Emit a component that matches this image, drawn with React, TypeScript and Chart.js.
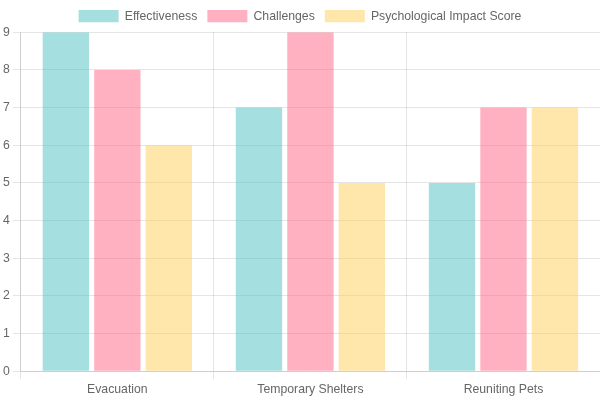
import React, { useEffect, useRef } from "react";
import { Chart, registerables } from "chart.js";

Chart.register(...registerables);

const categories = ["Evacuation", "Temporary Shelters", "Reuniting Pets"];
const effectiveness = [9, 7, 5];
const challenges = [8, 9, 7];
const psychologicalImpact = [6, 5, 7];

export default function App() {
  const canvasRef = useRef<HTMLCanvasElement | null>(null);

  useEffect(() => {
    document.body.style.margin = "0";
    const ctx = canvasRef.current;
    if (!ctx) return;
    Chart.defaults.font.size = 12.25;
    const chart = new Chart(ctx, {
      type: "bar",
      data: {
        labels: categories,
        datasets: [
          {
            label: "Effectiveness",
            data: effectiveness,
            backgroundColor: "rgba(75, 192, 192, 0.5)",
          },
          {
            label: "Challenges",
            data: challenges,
            backgroundColor: "rgba(255, 99, 132, 0.5)",
          },
          {
            label: "Psychological Impact Score",
            data: psychologicalImpact,
            backgroundColor: "rgba(255, 206, 86, 0.5)",
          },
        ],
      },
      options: {
        responsive: false,
        animation: false,
        plugins: {
          legend: { position: "top" },
        },
        scales: {
          y: { beginAtZero: true },
        },
      },
    });
    return () => chart.destroy();
  }, []);

  return (
    <div style={{ width: 600, height: 400 }}>
      <canvas ref={canvasRef} width={600} height={400} />
    </div>
  );
}
